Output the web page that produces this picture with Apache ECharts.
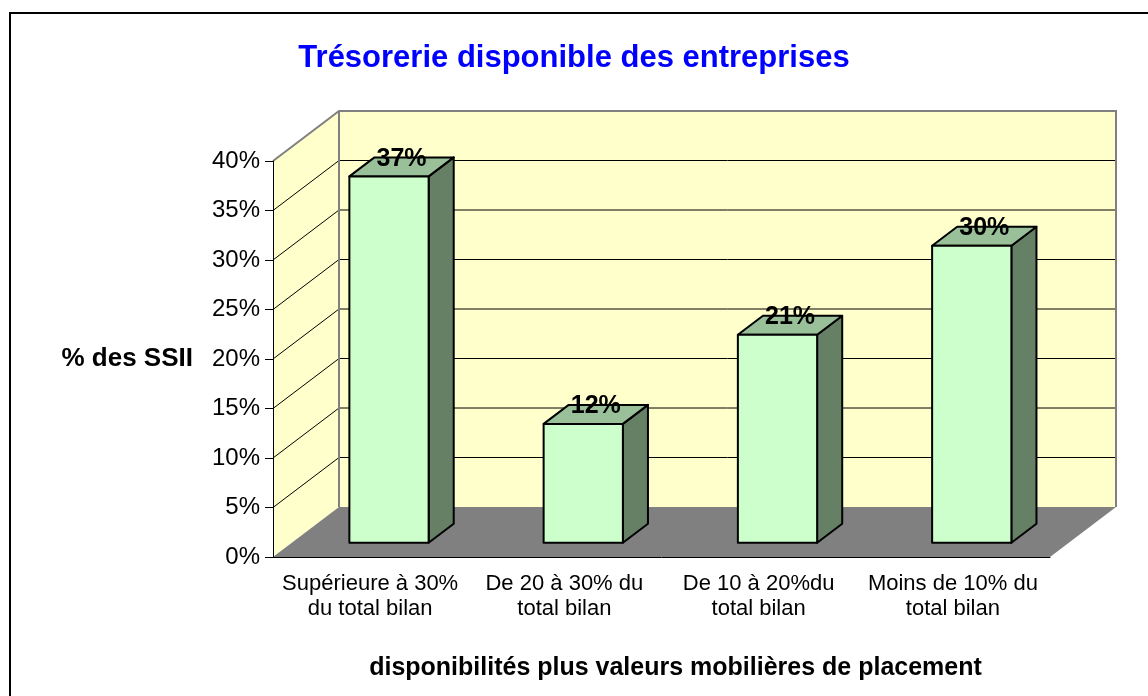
<!DOCTYPE html>
<html>
<head>
<meta charset="utf-8">
<script src="https://cdn.jsdelivr.net/npm/echarts@6/dist/echarts.min.js"></script>
<style>
  html, body { margin: 0; padding: 0; background: #fff; }
  #chart { width: 1148px; height: 696px; }
</style>
</head>
<body>
<div id="chart"></div>
<script>
var categories = [
    'Supérieure à 30%\ndu total bilan',
    'De 20 à 30% du\ntotal bilan',
    'De 10 à 20%du\ntotal bilan',
    'Moins de 10% du\ntotal bilan'
];
var values = [0.37, 0.12, 0.21, 0.30];
var yMax = 0.4;
var yStep = 0.05;

// depth of the 3D box in pixels, and bar placement inside it
var DX = 66, DY = -50;
var BAR_FRONT = 0.286, BAR_DEPTH = 0.38, BAR_W = 0.408;
var FONT = 'Liberation Sans, Arial, sans-serif';

function pct(v) {
    return Math.round(v * 100) + '%';
}

function renderWalls(params, api) {
    var band = api.size([1, 0])[0];
    var p0 = api.coord([0, 0]);
    var xL = p0[0] - band / 2;
    var xR = xL + band * categories.length;
    var yB = p0[1];
    var yT = api.coord([0, yMax])[1];
    var children = [];
    children.push({
        type: 'polygon',
        shape: { points: [[xL, yT], [xL + DX, yT + DY], [xL + DX, yB + DY], [xL, yB]] },
        style: { fill: '#FFFFCC' }
    });
    children.push({
        type: 'rect',
        shape: { x: xL + DX, y: yT + DY, width: xR - xL, height: yB - yT },
        style: { fill: '#FFFFCC' }
    });
    children.push({
        type: 'polygon',
        shape: { points: [[xL, yB], [xR, yB], [xR + DX, yB + DY], [xL + DX, yB + DY]] },
        style: { fill: '#808080' }
    });
    for (var v = yStep; v < yMax - 1e-9; v += yStep) {
        var y = api.coord([0, v])[1];
        children.push({
            type: 'line',
            shape: { x1: xL + DX, y1: y + DY, x2: xR + DX, y2: y + DY },
            style: { stroke: '#000', lineWidth: 1 }
        });
        children.push({
            type: 'line',
            shape: { x1: xL, y1: y, x2: xL + DX, y2: y + DY },
            style: { stroke: '#000', lineWidth: 1 }
        });
    }
    children.push({
        type: 'polyline',
        shape: { points: [[xL, yT], [xL + DX, yT + DY], [xR + DX, yT + DY], [xR + DX, yB + DY]] },
        style: { stroke: '#808080', lineWidth: 2, fill: null }
    });
    children.push({
        type: 'line',
        shape: { x1: xL + DX, y1: yT + DY, x2: xL + DX, y2: yB + DY },
        style: { stroke: '#808080', lineWidth: 2 }
    });
    return { type: 'group', children: children };
}

function renderBar(params, api) {
    var band = api.size([1, 0])[0];
    var base = api.coord([api.value(0), 0]);
    var top = api.coord([api.value(0), api.value(1)]);
    var w = band * BAR_W;
    var x0 = base[0] - w / 2 + DX * BAR_FRONT;
    var x1 = x0 + w;
    var yb = base[1] + DY * BAR_FRONT;
    var yt = top[1] + DY * BAR_FRONT;
    var ddx = DX * BAR_DEPTH, ddy = DY * BAR_DEPTH;
    var edge = { stroke: '#000', lineWidth: 2, lineJoin: 'round' };
    return {
        type: 'group',
        children: [
            {
                type: 'polygon',
                shape: { points: [[x1, yt], [x1 + ddx, yt + ddy], [x1 + ddx, yb + ddy], [x1, yb]] },
                style: Object.assign({ fill: '#668066' }, edge)
            },
            {
                type: 'polygon',
                shape: { points: [[x0, yt], [x1, yt], [x1 + ddx, yt + ddy], [x0 + ddx, yt + ddy]] },
                style: Object.assign({ fill: '#99C099' }, edge)
            },
            {
                type: 'rect',
                shape: { x: x0, y: yt, width: w, height: yb - yt },
                style: Object.assign({ fill: '#CCFFCC' }, edge)
            },
            {
                type: 'text',
                style: {
                    x: (x0 + x1 + ddx) / 2,
                    y: yt + ddy / 2 - 8,
                    text: pct(api.value(1)),
                    fill: '#000',
                    font: 'bold 25px ' + FONT,
                    align: 'center',
                    verticalAlign: 'middle'
                }
            }
        ]
    };
}

var chart = echarts.init(document.getElementById('chart'));
chart.setOption({
    animation: false,
    backgroundColor: '#fff',
    title: {
        text: 'Trésorerie disponible des entreprises',
        left: 'center',
        top: 38,
        textStyle: { color: '#0000FF', fontSize: 31, fontWeight: 'bold', fontFamily: FONT }
    },
    graphic: [{
        type: 'rect',
        silent: true,
        shape: { x: 10, y: 13, width: 1300, height: 900 },
        style: { fill: null, stroke: '#000', lineWidth: 2 }
    }],
    grid: { left: 273, top: 161, width: 777, height: 396 },
    xAxis: {
        type: 'category',
        data: categories,
        z: 5,
        name: 'disponibilités plus valeurs mobilières de placement',
        nameLocation: 'middle',
        nameGap: 99,
        nameTextStyle: {
            fontSize: 25, fontWeight: 'bold', color: '#000', fontFamily: FONT,
            padding: [0, 0, 0, 28]
        },
        axisLine: { lineStyle: { color: '#000', width: 1 } },
        axisTick: { length: 8, lineStyle: { color: '#000' } },
        axisLabel: { interval: 0, fontSize: 22, lineHeight: 25, margin: 14, color: '#000', fontFamily: FONT }
    },
    yAxis: {
        type: 'value',
        min: 0,
        max: yMax,
        interval: yStep,
        z: 5,
        name: '% des SSII',
        nameLocation: 'middle',
        nameRotate: 0,
        nameGap: 80,
        nameTextStyle: { fontSize: 26, fontWeight: 'bold', color: '#000', fontFamily: FONT, align: 'right' },
        splitLine: { show: false },
        axisLine: { show: true, lineStyle: { color: '#000', width: 1 } },
        axisTick: { show: true, length: 8, lineStyle: { color: '#000' } },
        axisLabel: { formatter: pct, fontSize: 24, margin: 13, color: '#000', fontFamily: FONT }
    },
    series: [
        {
            type: 'custom',
            z: 1,
            silent: true,
            renderItem: renderWalls,
            data: [[0, 0]]
        },
        {
            type: 'custom',
            z: 2,
            renderItem: renderBar,
            data: values.map(function (v, i) { return [i, v]; })
        }
    ]
});
</script>
</body>
</html>
